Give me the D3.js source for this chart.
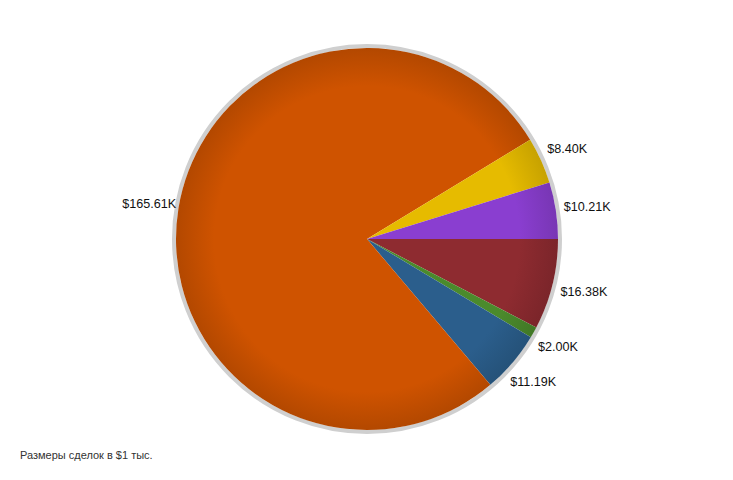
<!DOCTYPE html>
<meta charset="utf-8">
<style>
body, html { margin: 0; padding: 0; background: #fff; overflow: hidden; }
svg { font-family: "Liberation Sans", Arial, sans-serif; }
.lbl { font-size: 12.6px; fill: #111; }
.caption { font-size: 11px; fill: #333; }
</style>
<svg width="733" height="480"></svg>
<script src="https://cdn.jsdelivr.net/npm/d3@7"></script>
<script>

// slices, clockwise starting at 3 o'clock
var labels = ["$16.38K", "$2.00K", "$11.19K", "$165.61K", "$8.40K", "$10.21K"];
var values = [16.38, 2.00, 11.19, 165.61, 8.40, 10.21];
var colors = ["#8e2b30", "#4b8a2c", "#2b5e8c", "#cf5300", "#e6bb00", "#8a3ed0"];

var cx = 367, cy = 239, r = 191;

var svg = d3.select("svg");
var defs = svg.append("defs");

colors.forEach(function(c, i) {
  var g = defs.append("radialGradient")
      .attr("id", "g" + i)
      .attr("gradientUnits", "userSpaceOnUse")
      .attr("cx", 0).attr("cy", 0).attr("r", r);
  g.append("stop").attr("offset", "0%").attr("stop-color", c);
  g.append("stop").attr("offset", "80%").attr("stop-color", c);
  g.append("stop").attr("offset", "100%").attr("stop-color", d3.color(c).darker(0.4));
});

var pie = d3.pie().sort(null).startAngle(Math.PI / 2).endAngle(Math.PI / 2 + 2 * Math.PI);
var arcs = pie(values);
var arc = d3.arc().innerRadius(0).outerRadius(r);

var g = svg.append("g").attr("transform", "translate(" + cx + "," + cy + ")");

g.append("circle").attr("r", r + 2).attr("fill", "none")
    .attr("stroke", "#cfcfcf").attr("stroke-width", 4);

g.selectAll("path.slice")
  .data(arcs)
  .enter().append("path")
    .attr("class", "slice")
    .attr("d", arc)
    .attr("fill", function(d, i) { return "url(#g" + i + ")"; });

// labels: height from a wider radius, x hugging the rim
g.selectAll("text.lbl")
  .data(arcs)
  .enter().append("text")
    .attr("class", "lbl")
    .each(function(d, i) {
      var a = (d.startAngle + d.endAngle) / 2;
      var dy = -Math.cos(a) * 220;
      var side = Math.sin(a) >= 0 ? 1 : -1;
      var edge = Math.sqrt(Math.max(0, (r + 4) * (r + 4) - dy * dy));
      var pad = side > 0 ? 3 + Math.abs(dy) / 20 : -1;
      d3.select(this)
        .attr("x", side * (edge + pad))
        .attr("y", dy)
        .attr("dy", "0.35em")
        .attr("text-anchor", side > 0 ? "start" : "end")
        .text(labels[i]);
    });

svg.append("text")
    .attr("class", "caption")
    .attr("x", 20).attr("y", 459)
    .text("Размеры сделок в $1 тыс.");

</script>
